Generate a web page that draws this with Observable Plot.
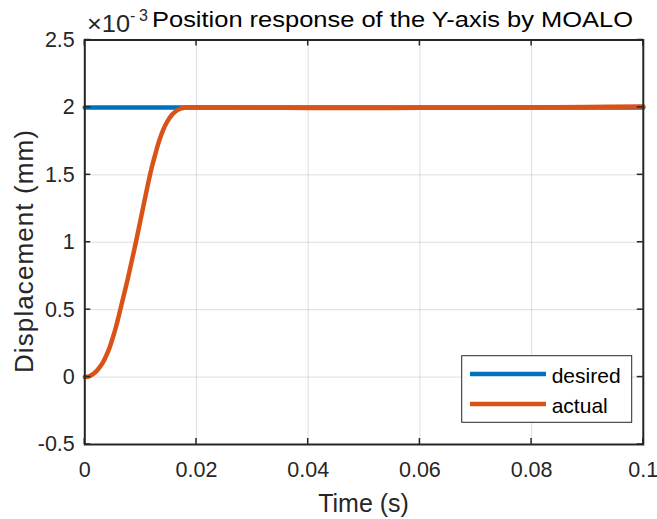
<!DOCTYPE html>
<html>
<head>
<meta charset="utf-8">
<script src="https://cdn.jsdelivr.net/npm/d3@7"></script>
<script src="https://cdn.jsdelivr.net/npm/@observablehq/plot@0.6"></script>
<style>
  html, body { margin: 0; padding: 0; background: #fff; }
  svg text { font-family: "Liberation Sans", Arial, Helvetica, sans-serif; }
</style>
</head>
<body>
<div id="chart"></div>
<script>
// Data (time in s, displacement in units of 1e-3 mm)
const desiredTime = [0, 0.1];
const desiredValue = [2, 2];
const actualTime = [0, 0.0008, 0.0014, 0.002, 0.0026, 0.0032, 0.0038, 0.0044, 0.005, 0.0056, 0.0063, 0.007, 0.0077, 0.0084, 0.0091, 0.0098, 0.0105, 0.0112, 0.0119, 0.0126, 0.0133, 0.014, 0.0147, 0.0155, 0.0163, 0.0171, 0.018, 0.02, 0.03, 0.04, 0.05, 0.06, 0.07, 0.08, 0.09, 0.1];
const actualValue = [0, 0.006, 0.02, 0.04, 0.07, 0.105, 0.155, 0.215, 0.29, 0.375, 0.49, 0.61, 0.73, 0.86, 0.99, 1.13, 1.27, 1.41, 1.54, 1.65, 1.75, 1.83, 1.89, 1.94, 1.972, 1.99, 2.0, 2.0, 1.998, 1.996, 1.996, 1.997, 1.998, 2.0, 2.003, 2.006];
const xTicks = [0, 0.02, 0.04, 0.06, 0.08, 0.1];
const xTickLabels = ["0", "0.02", "0.04", "0.06", "0.08", "0.1"];
const yTicks = [-0.5, 0, 0.5, 1, 1.5, 2, 2.5];
const yTickLabels = ["-0.5", "0", "0.5", "1", "1.5", "2", "2.5"];
const seriesNames = ["desired", "actual"];
const seriesColors = ["#0072BD", "#D95319"];
const titleText = "Position response of the Y-axis by MOALO";
const xLabel = "Time (s)";
const yLabel = "Displacement (mm)";

const desired = desiredTime.map((t, i) => ({t, v: desiredValue[i]}));
const actual = actualTime.map((t, i) => ({t, v: actualValue[i]}));

const W = 657, H = 519;
const mL = 84.3, mR = 14.2, mT = 39.5, mB = 75;
const axisColor = "#262626";

const plot = Plot.plot({
  width: W, height: H,
  marginLeft: mL, marginRight: mR, marginTop: mT, marginBottom: mB,
  style: {fontFamily: "'Liberation Sans', Arial, sans-serif", fontSize: "21px", color: axisColor, background: "#fff", overflow: "visible"},
  x: {domain: [0, 0.1]},
  y: {domain: [-0.5, 2.5]},
  marks: [
    Plot.gridX(xTicks, {stroke: axisColor, strokeOpacity: 0.15, strokeWidth: 1}),
    Plot.gridY(yTicks, {stroke: axisColor, strokeOpacity: 0.15, strokeWidth: 1}),
    Plot.line(desired, {x: "t", y: "v", stroke: seriesColors[0], strokeWidth: 4.5}),
    Plot.line(actual, {x: "t", y: "v", stroke: seriesColors[1], strokeWidth: 4.5, curve: "catmull-rom"}),
    Plot.frame({stroke: axisColor, strokeWidth: 2}),
    Plot.axisX(xTicks, {anchor: "bottom", tickSize: 0, tickPadding: 17, tickFormat: (d, i) => xTickLabels[i], label: null, fill: axisColor, fontSize: 21.5}),
    Plot.axisY(yTicks, {anchor: "left", tickSize: 0, tickPadding: 10, tickFormat: (d, i) => yTickLabels[i], label: null, fill: axisColor, fontSize: 21.5})
  ]
});

document.getElementById("chart").appendChild(plot);

const svg = d3.select(plot);
const sx = plot.scale("x"), sy = plot.scale("y");
const x0 = sx.apply(0), x1 = sx.apply(0.1);
const y0 = sy.apply(-0.5), y1 = sy.apply(2.5);
const tk = 6;

// inward ticks on all four sides
const g = svg.append("g").attr("stroke", axisColor).attr("stroke-width", 1.5);
xTicks.forEach(t => {
  const px = sx.apply(t);
  g.append("line").attr("x1", px).attr("x2", px).attr("y1", y0).attr("y2", y0 - tk);
  g.append("line").attr("x1", px).attr("x2", px).attr("y1", y1).attr("y2", y1 + tk);
});
yTicks.forEach(t => {
  const py = sy.apply(t);
  g.append("line").attr("x1", x0).attr("x2", x0 + tk).attr("y1", py).attr("y2", py);
  g.append("line").attr("x1", x1).attr("x2", x1 - tk).attr("y1", py).attr("y2", py);
});

// axis labels
svg.append("text").attr("x", (x0 + x1) / 2).attr("y", 511.5)
  .attr("text-anchor", "middle").attr("font-size", 25).attr("fill", axisColor).text(xLabel);
svg.append("text").attr("transform", "translate(33.3,251.5) rotate(-90)")
  .attr("text-anchor", "middle").attr("font-size", 26).attr("fill", axisColor)
  .attr("textLength", 243).attr("lengthAdjust", "spacing").text(yLabel);

// exponent and title
svg.append("text").attr("x", 87).attr("y", 32).attr("font-size", 23).attr("fill", axisColor)
  .attr("text-anchor", "start")
  .attr("textLength", 43).attr("lengthAdjust", "spacingAndGlyphs").text("\u00d710");
svg.append("text").attr("x", 130).attr("y", 20.5).attr("font-size", 16).attr("fill", axisColor)
  .attr("text-anchor", "start")
  .attr("textLength", 18).attr("lengthAdjust", "spacing").text("-3");
svg.append("text").attr("x", 152).attr("y", 26.7).attr("font-size", 22).attr("fill", "#000")
  .attr("text-anchor", "start")
  .attr("textLength", 481).attr("lengthAdjust", "spacingAndGlyphs").text(titleText);

// legend
const lg = svg.append("g");
lg.append("rect").attr("x", 461.7).attr("y", 355.7).attr("width", 170).attr("height", 66.6)
  .attr("fill", "#fff").attr("stroke", axisColor).attr("stroke-width", 1);
[374, 404].forEach((ly, i) => {
  lg.append("line").attr("x1", 470).attr("x2", 546).attr("y1", ly).attr("y2", ly)
    .attr("stroke", seriesColors[i]).attr("stroke-width", 4.5);
  lg.append("text").attr("x", 551.7).attr("y", ly + 8.5).attr("font-size", 21).attr("fill", "#000")
    .attr("text-anchor", "start")
    .text(seriesNames[i]);
});
</script>
</body>
</html>
